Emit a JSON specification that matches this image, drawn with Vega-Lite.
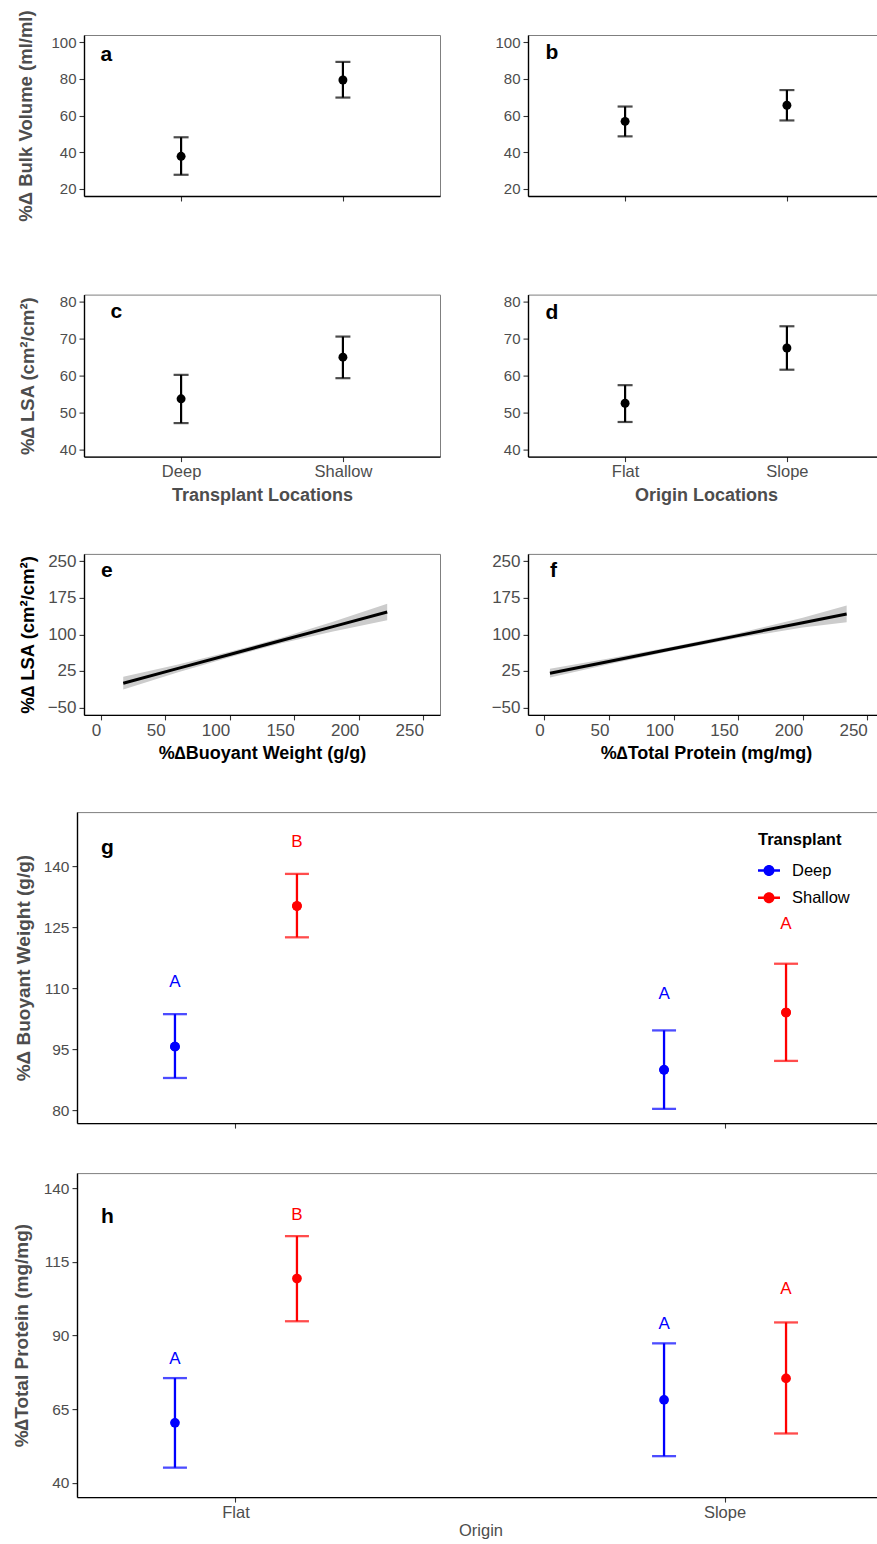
{
"$schema": "https://vega.github.io/schema/vega-lite/v6.json",
"background": "white",
"padding": {"left": 12, "top": 9, "right": 0, "bottom": 0},
"config": {
  "font": "Liberation Sans",
  "view": {"stroke": "#7f7f7f", "strokeWidth": 1},
  "axis": {"grid": false, "domainColor": "black", "domainWidth": 1.4, "tickColor": "#333333", "tickSize": 5, "tickWidth": 1.1, "labelColor": "#4d4d4d", "labelFontSize": 15, "labelPadding": 3, "titleColor": "#4d4d4d", "titleFontWeight": "bold", "titleFontSize": 18.5, "labelFlush": false},
  "legend": {"padding": 0}
},
"datasets": {
  "bv_t": [{"loc": "Deep", "mean": 37.7, "lo": 27.6, "hi": 48.1}, {"loc": "Shallow", "mean": 79.4, "lo": 69.8, "hi": 89.3}],
  "bv_o": [{"loc": "Flat", "mean": 56.8, "lo": 48.6, "hi": 64.9}, {"loc": "Slope", "mean": 65.6, "lo": 57.3, "hi": 73.9}],
  "lsa_t": [{"loc": "Deep", "mean": 53.7, "lo": 47.1, "hi": 60.2}, {"loc": "Shallow", "mean": 65.0, "lo": 59.3, "hi": 70.6}],
  "lsa_o": [{"loc": "Flat", "mean": 52.5, "lo": 47.4, "hi": 57.4}, {"loc": "Slope", "mean": 67.5, "lo": 61.6, "hi": 73.4}],
  "fit_bw": [{"x": 17.5, "fit": 0, "lo": -13, "hi": 13}, {"x": 60, "fit": 30.3, "lo": 22.3, "hi": 38.3}, {"x": 100, "fit": 58.9, "lo": 53.4, "hi": 64.4}, {"x": 140, "fit": 87.5, "lo": 82, "hi": 93}, {"x": 180, "fit": 116, "lo": 106, "hi": 126}, {"x": 222, "fit": 146, "lo": 129, "hi": 163}],
  "fit_tp": [{"x": 4.4, "fit": 20.5, "lo": 11.5, "hi": 29.5}, {"x": 50, "fit": 44.6, "lo": 38.6, "hi": 50.6}, {"x": 100, "fit": 71.1, "lo": 67.1, "hi": 75.1}, {"x": 150, "fit": 97.5, "lo": 92.5, "hi": 102.5}, {"x": 200, "fit": 124, "lo": 114, "hi": 134}, {"x": 234, "fit": 142, "lo": 125, "hi": 159}],
  "bw": [{"origin": "Flat", "transplant": "Deep", "mean": 95.6, "lo": 87.9, "hi": 103.6, "letter": "A", "laby": 111.4}, {"origin": "Flat", "transplant": "Shallow", "mean": 130.2, "lo": 122.5, "hi": 138.1, "letter": "B", "laby": 145.9}, {"origin": "Slope", "transplant": "Deep", "mean": 89.9, "lo": 80.3, "hi": 99.6, "letter": "A", "laby": 108.5}, {"origin": "Slope", "transplant": "Shallow", "mean": 104.0, "lo": 92.1, "hi": 116.0, "letter": "A", "laby": 125.8}],
  "tp": [{"origin": "Flat", "transplant": "Deep", "mean": 60.3, "lo": 45.1, "hi": 75.5, "letter": "A", "laby": 81.9}, {"origin": "Flat", "transplant": "Shallow", "mean": 109.3, "lo": 94.8, "hi": 123.7, "letter": "B", "laby": 130.8}, {"origin": "Slope", "transplant": "Deep", "mean": 68.1, "lo": 49.0, "hi": 87.3, "letter": "A", "laby": 94.0}, {"origin": "Slope", "transplant": "Shallow", "mean": 75.4, "lo": 56.7, "hi": 94.4, "letter": "A", "laby": 105.7}]
},
"vconcat": [
  {"hconcat": [
   {"width": 7, "height": 10, "data": {"values": []}, "mark": {"type": "point", "opacity": 0}, "view": {"stroke": null}},
   {"hconcat": [
   {"width": 356, "height": 161,
    "title": {"text": "a", "anchor": "start", "frame": "group", "offset": 0, "baseline": "alphabetic", "dx": 16.5, "dy": 71.8, "fontSize": 21, "fontWeight": "bold", "color": "black"},
    "data": {"name": "bv_t"},
    "encoding": {"x": {"field": "loc", "type": "nominal", "scale": {"type": "point", "padding": 0.6}, "axis": {"labels": false, "title": null}}},
    "layer": [
     {"mark": {"type": "rule", "color": "black", "strokeWidth": 2.2}, "encoding": {"y": {"field": "lo", "type": "quantitative", "scale": {"domain": [16, 104], "nice": false, "zero": false}, "axis": {"title": "%Δ Bulk Volume (ml/ml)", "values": [20, 40, 60, 80, 100], "titleX": -48.5}}, "y2": {"field": "hi"}}},
     {"mark": {"type": "tick", "color": "black", "size": 15, "thickness": 2.2}, "encoding": {"y": {"field": "lo", "type": "quantitative"}}},
     {"mark": {"type": "tick", "color": "black", "size": 15, "thickness": 2.2}, "encoding": {"y": {"field": "hi", "type": "quantitative"}}},
     {"mark": {"type": "point", "filled": true, "color": "black", "opacity": 1, "size": 80}, "encoding": {"y": {"field": "mean", "type": "quantitative"}}}
    ]},
   {"width": 356, "height": 161,
    "title": {"text": "b", "anchor": "start", "frame": "group", "offset": 0, "baseline": "alphabetic", "dx": 17.5, "dy": 45, "fontSize": 21, "fontWeight": "bold", "color": "black"},
    "data": {"name": "bv_o"},
    "encoding": {"x": {"field": "loc", "type": "nominal", "scale": {"type": "point", "padding": 0.6}, "axis": {"labels": false, "title": null}}},
    "layer": [
     {"mark": {"type": "rule", "color": "black", "strokeWidth": 2.2}, "encoding": {"y": {"field": "lo", "type": "quantitative", "scale": {"domain": [16, 104], "nice": false, "zero": false}, "axis": {"title": null, "values": [20, 40, 60, 80, 100]}}, "y2": {"field": "hi"}}},
     {"mark": {"type": "tick", "color": "black", "size": 15, "thickness": 2.2}, "encoding": {"y": {"field": "lo", "type": "quantitative"}}},
     {"mark": {"type": "tick", "color": "black", "size": 15, "thickness": 2.2}, "encoding": {"y": {"field": "hi", "type": "quantitative"}}},
     {"mark": {"type": "point", "filled": true, "color": "black", "opacity": 1, "size": 80}, "encoding": {"y": {"field": "mean", "type": "quantitative"}}}
    ]}
   ], "spacing": 88, "bounds": "flush"}
  ], "spacing": 0, "bounds": "flush"},
  {"vconcat": [
   {"vconcat": [
    {"hconcat": [
     {"width": 7, "height": 10, "data": {"values": []}, "mark": {"type": "point", "opacity": 0}, "view": {"stroke": null}},
     {"hconcat": [
     {"width": 356, "height": 162,
      "title": {"text": "c", "anchor": "start", "frame": "group", "offset": 0, "baseline": "alphabetic", "dx": 26.5, "dy": 44.3, "fontSize": 21, "fontWeight": "bold", "color": "black"},
      "data": {"name": "lsa_t"},
      "encoding": {"x": {"field": "loc", "type": "nominal", "scale": {"type": "point", "padding": 0.6}, "axis": {"title": "Transplant Locations", "labelAngle": 0, "labelFontSize": 16.5, "labelPadding": 2, "titleFontSize": 18, "titlePadding": 6}}},
      "layer": [
       {"mark": {"type": "rule", "color": "black", "strokeWidth": 2.2}, "encoding": {"y": {"field": "lo", "type": "quantitative", "scale": {"domain": [38, 82], "nice": false, "zero": false}, "axis": {"title": "%∆ LSA (cm²/cm²)", "values": [40, 50, 60, 70, 80], "titleX": -47}}, "y2": {"field": "hi"}}},
       {"mark": {"type": "tick", "color": "black", "size": 15, "thickness": 2.2}, "encoding": {"y": {"field": "lo", "type": "quantitative"}}},
       {"mark": {"type": "tick", "color": "black", "size": 15, "thickness": 2.2}, "encoding": {"y": {"field": "hi", "type": "quantitative"}}},
       {"mark": {"type": "point", "filled": true, "color": "black", "opacity": 1, "size": 80}, "encoding": {"y": {"field": "mean", "type": "quantitative"}}}
      ]},
     {"width": 356, "height": 162,
      "title": {"text": "d", "anchor": "start", "frame": "group", "offset": 0, "baseline": "alphabetic", "dx": 17.5, "dy": 45.5, "fontSize": 21, "fontWeight": "bold", "color": "black"},
      "data": {"name": "lsa_o"},
      "encoding": {"x": {"field": "loc", "type": "nominal", "scale": {"type": "point", "padding": 0.6}, "axis": {"title": "Origin Locations", "labelAngle": 0, "labelFontSize": 16.5, "labelPadding": 2, "titleFontSize": 18, "titlePadding": 6}}},
      "layer": [
       {"mark": {"type": "rule", "color": "black", "strokeWidth": 2.2}, "encoding": {"y": {"field": "lo", "type": "quantitative", "scale": {"domain": [38, 82], "nice": false, "zero": false}, "axis": {"title": null, "values": [40, 50, 60, 70, 80]}}, "y2": {"field": "hi"}}},
       {"mark": {"type": "tick", "color": "black", "size": 15, "thickness": 2.2}, "encoding": {"y": {"field": "lo", "type": "quantitative"}}},
       {"mark": {"type": "tick", "color": "black", "size": 15, "thickness": 2.2}, "encoding": {"y": {"field": "hi", "type": "quantitative"}}},
       {"mark": {"type": "point", "filled": true, "color": "black", "opacity": 1, "size": 80}, "encoding": {"y": {"field": "mean", "type": "quantitative"}}}
      ]}
     ], "spacing": 88, "bounds": "flush"}
    ], "spacing": 0, "bounds": "flush"},
    {"hconcat": [
     {"width": 7, "height": 10, "data": {"values": []}, "mark": {"type": "point", "opacity": 0}, "view": {"stroke": null}},
     {"hconcat": [
     {"width": 356, "height": 161,
      "title": {"text": "e", "anchor": "start", "frame": "group", "offset": 0, "baseline": "alphabetic", "dx": 17, "dy": 46, "fontSize": 21, "fontWeight": "bold", "color": "black"},
      "data": {"name": "fit_bw"},
      "encoding": {"x": {"field": "x", "type": "quantitative", "scale": {"domain": [-12.9, 262.9], "nice": false, "zero": false}, "axis": {"title": "%∆Buoyant Weight (g/g)", "values": [0, 50, 100, 150, 200, 250], "labelAlign": "right", "labelFontSize": 17, "labelPadding": 3, "titleColor": "black", "titleFontSize": 18, "titlePadding": 6}}},
      "layer": [
       {"mark": {"type": "area", "color": "#cccccc", "opacity": 1}, "encoding": {"y": {"field": "lo", "type": "quantitative", "scale": {"domain": [-65, 265], "nice": false, "zero": false}, "axis": {"title": "%∆ LSA (cm²/cm²)", "values": [-50, 25, 100, 175, 250], "labelFontSize": 17, "titleColor": "black", "titleX": -47}}, "y2": {"field": "hi"}}},
       {"mark": {"type": "line", "color": "black", "strokeWidth": 3}, "encoding": {"y": {"field": "fit", "type": "quantitative"}}}
      ]},
     {"width": 356, "height": 161,
      "title": {"text": "f", "anchor": "start", "frame": "group", "offset": 0, "baseline": "alphabetic", "dx": 22, "dy": 46, "fontSize": 21, "fontWeight": "bold", "color": "black"},
      "data": {"name": "fit_tp"},
      "encoding": {"x": {"field": "x", "type": "quantitative", "scale": {"domain": [-12.6, 262.9], "nice": false, "zero": false}, "axis": {"title": "%∆Total Protein (mg/mg)", "values": [0, 50, 100, 150, 200, 250], "labelAlign": "right", "labelFontSize": 17, "labelPadding": 3, "titleColor": "black", "titleFontSize": 18, "titlePadding": 6}}},
      "layer": [
       {"mark": {"type": "area", "color": "#cccccc", "opacity": 1}, "encoding": {"y": {"field": "lo", "type": "quantitative", "scale": {"domain": [-65, 265], "nice": false, "zero": false}, "axis": {"title": null, "values": [-50, 25, 100, 175, 250], "labelFontSize": 17}}, "y2": {"field": "hi"}}},
       {"mark": {"type": "line", "color": "black", "strokeWidth": 3}, "encoding": {"y": {"field": "fit", "type": "quantitative"}}}
      ]}
     ], "spacing": 88, "bounds": "flush"}
    ], "spacing": 0, "bounds": "flush"}
   ], "spacing": 46.3},
   {"vconcat": [
    {"width": 807, "height": 311,
     "title": {"text": "g", "anchor": "start", "frame": "group", "offset": 0, "baseline": "alphabetic", "dx": 24, "dy": 63, "fontSize": 21, "fontWeight": "bold", "color": "black"},
     "data": {"name": "bw"},
     "encoding": {
       "x": {"field": "origin", "type": "nominal", "scale": {"type": "band", "paddingInner": 0.35, "paddingOuter": 0}, "axis": {"labels": false, "title": null}},
       "xOffset": {"field": "transplant", "type": "nominal", "scale": {"domain": ["Deep", "Shallow"], "paddingInner": 0, "paddingOuter": 0.303}},
       "color": {"field": "transplant", "type": "nominal", "scale": {"domain": ["Deep", "Shallow"], "range": ["#0000ff", "#ff0000"]}, "legend": {"orient": "none", "legendX": 681, "legendY": 797, "title": "Transplant", "titleFontSize": 16.5, "titleFontWeight": "bold", "titleColor": "black", "labelFontSize": 16.5, "labelColor": "black", "symbolType": "M-1,-0.11H1V0.11H-1Z M-0.5,0A0.5,0.5,0,1,1,0.5,0A0.5,0.5,0,1,1,-0.5,0Z", "symbolSize": 484, "symbolStrokeWidth": 0, "symbolOpacity": 1, "titlePadding": 11, "rowPadding": 7.2, "labelOffset": 12}}
     },
     "layer": [
      {"mark": {"type": "point", "filled": true, "opacity": 1, "size": 95}, "encoding": {"y": {"field": "mean", "type": "quantitative", "scale": {"domain": [76.8, 153.3], "nice": false, "zero": false}, "axis": {"title": "%Δ Buoyant Weight (g/g)", "values": [80, 95, 110, 125, 140], "labelFontSize": 15.5, "titleFontSize": 19, "titleX": -43.7}}}},
      {"mark": {"type": "rule", "strokeWidth": 2.3}, "encoding": {"y": {"field": "lo", "type": "quantitative"}, "y2": {"field": "hi"}}},
      {"mark": {"type": "tick", "size": 24, "thickness": 2.3}, "encoding": {"y": {"field": "lo", "type": "quantitative"}}},
      {"mark": {"type": "tick", "size": 24, "thickness": 2.3}, "encoding": {"y": {"field": "hi", "type": "quantitative"}}},
      {"mark": {"type": "text", "fontSize": 17, "baseline": "middle"}, "encoding": {"y": {"field": "laby", "type": "quantitative"}, "text": {"field": "letter"}}},
      {"mark": {"type": "point", "filled": true, "opacity": 1, "size": 95}, "encoding": {"y": {"field": "mean", "type": "quantitative"}}}
     ]},
    {"width": 807, "height": 324,
     "title": {"text": "h", "anchor": "start", "frame": "group", "offset": 0, "baseline": "alphabetic", "dx": 24, "dy": 71, "fontSize": 21, "fontWeight": "bold", "color": "black"},
     "data": {"name": "tp"},
     "encoding": {
       "x": {"field": "origin", "type": "nominal", "scale": {"type": "band", "paddingInner": 0.35, "paddingOuter": 0}, "axis": {"title": "Origin", "labelAngle": 0, "labelFontSize": 16.5, "labelPadding": 2, "titleFontWeight": "normal", "titleFontSize": 16.5, "titlePadding": 2}},
       "xOffset": {"field": "transplant", "type": "nominal", "scale": {"domain": ["Deep", "Shallow"], "paddingInner": 0, "paddingOuter": 0.303}},
       "color": {"field": "transplant", "type": "nominal", "scale": {"domain": ["Deep", "Shallow"], "range": ["#0000ff", "#ff0000"]}, "legend": null}
     },
     "layer": [
      {"mark": {"type": "rule", "strokeWidth": 2.3}, "encoding": {"y": {"field": "lo", "type": "quantitative", "scale": {"domain": [35.1, 145.1], "nice": false, "zero": false}, "axis": {"title": "%∆Total Protein (mg/mg)", "values": [40, 65, 90, 115, 140], "labelFontSize": 15.5, "titleFontSize": 19, "titleX": -45.3}}, "y2": {"field": "hi"}}},
      {"mark": {"type": "tick", "size": 24, "thickness": 2.3}, "encoding": {"y": {"field": "lo", "type": "quantitative"}}},
      {"mark": {"type": "tick", "size": 24, "thickness": 2.3}, "encoding": {"y": {"field": "hi", "type": "quantitative"}}},
      {"mark": {"type": "text", "fontSize": 17, "baseline": "middle"}, "encoding": {"y": {"field": "laby", "type": "quantitative"}, "text": {"field": "letter"}}},
      {"mark": {"type": "point", "filled": true, "opacity": 1, "size": 95}, "encoding": {"y": {"field": "mean", "type": "quantitative"}}}
     ]}
   ], "spacing": 42}
  ], "spacing": 47.5}
],
"spacing": 71.6
}
